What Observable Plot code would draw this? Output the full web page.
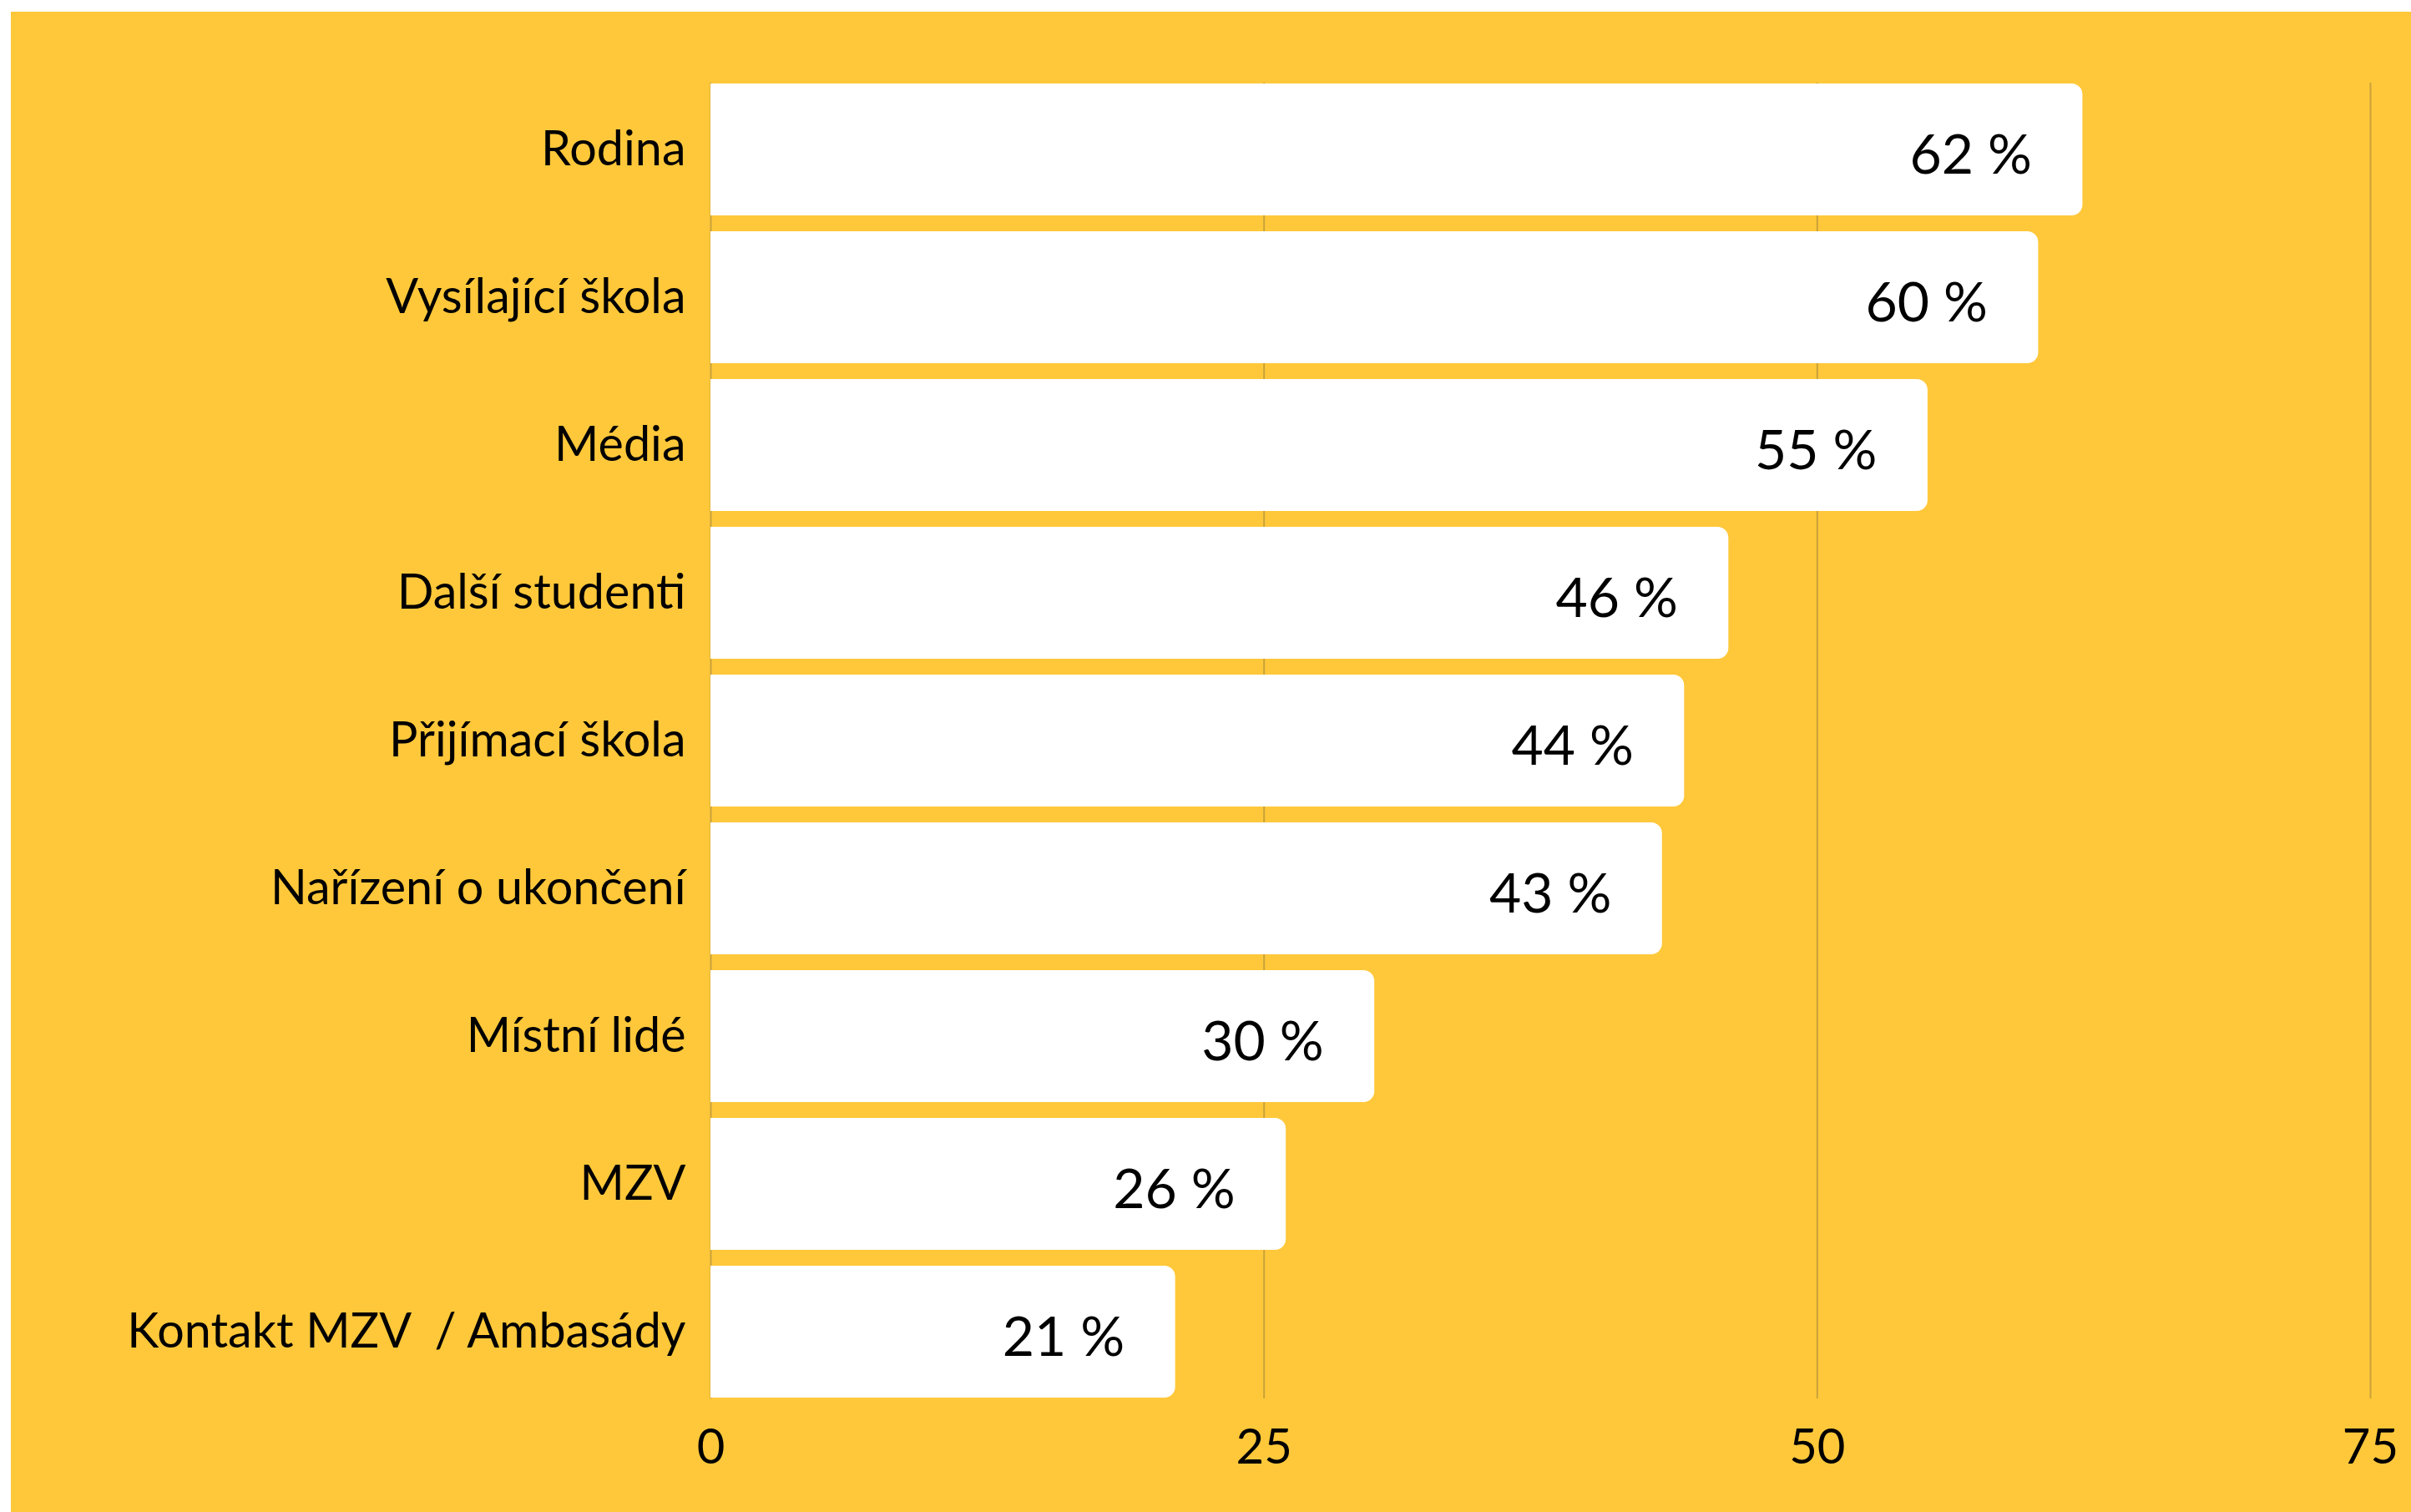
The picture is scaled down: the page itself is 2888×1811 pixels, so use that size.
<!DOCTYPE html>
<html>
<head>
<meta charset="utf-8">
<script src="https://cdn.jsdelivr.net/npm/d3@7"></script>
<script src="https://cdn.jsdelivr.net/npm/@observablehq/plot@0.6"></script>
<style>
  html, body { margin: 0; padding: 0; background: #ffffff; }
  #chart { position: absolute; left: 13px; top: 14px; }
  #chart svg { white-space: pre; }
</style>
</head>
<body>
<div id="chart"></div>
<script>
const categories = ["Rodina", "Vysílající škola", "Média", "Další studenti", "Přijímací škola", "Nařízení o ukončení", "Místní lidé", "MZV", "Kontakt MZV  / Ambasády"];
const values = [62, 60, 55, 46, 44, 43, 30, 26, 21];
const xTicks = [0, 25, 50, 75];
const valueLabels = values.map(v => `${v} %`);

const data = categories.map((c, i) => ({category: c, value: values[i], label: valueLabels[i]}));

const chart = Plot.plot({
  width: 2875,
  height: 1797,
  marginLeft: 838,
  marginRight: 49,
  marginTop: 75.4,
  marginBottom: 126.4,
  style: {fontFamily: "Lato", fontSize: "57px", background: "#FFC83A", color: "#000", overflow: "visible"},
  x: {domain: [0, 75], ticks: xTicks, label: null},
  y: {domain: categories, paddingInner: 0.1086, paddingOuter: 0.0543, label: null},
  marks: [
    Plot.gridX(xTicks, {stroke: "#C9A23A", strokeOpacity: 1, strokeWidth: 2, insetTop: 9.6, insetBottom: 9.6}),
    Plot.barX(data, {x: "value", y: "category", fill: "#ffffff", rx: 13}),
    Plot.barX(data, {x1: 0, x2: d => d.value / 2, y: "category", fill: "#ffffff"}),
    Plot.text(data, {x: "value", y: "category", text: "label", textAnchor: "end", dx: -61, dy: 7, fontSize: 66, fill: "#000"}),
    Plot.axisY({tickSize: 0, tickPadding: 30, fontSize: 57.5, label: null}),
    Plot.axisX(xTicks, {tickSize: 0, tickPadding: 27, fontSize: 58, label: null})
  ]
});
document.getElementById("chart").appendChild(chart);
</script>
</body>
</html>
